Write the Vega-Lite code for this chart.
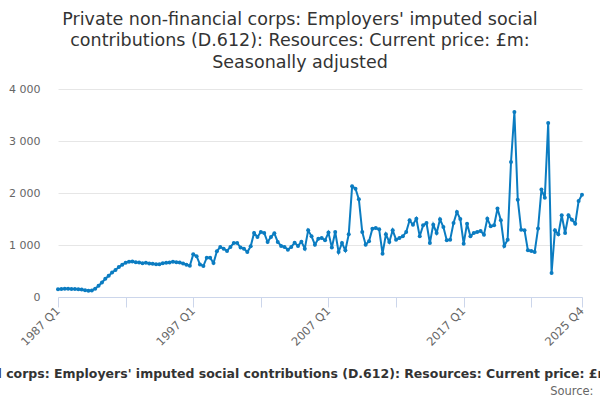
{
  "$schema": "https://vega.github.io/schema/vega-lite/v6.json",
  "width": 524,
  "height": 208,
  "autosize": {"type": "none"},
  "padding": {"left": 58, "right": 18, "top": 89, "bottom": 103},
  "background": "white",
  "config": {"view": {"stroke": null}, "font": "DejaVu Sans"},
  "title": {
    "text": ["Private non-financial corps: Employers' imputed social", "contributions (D.612): Resources: Current price: £m:", "Seasonally adjusted"],
    "font": "DejaVu Sans",
    "fontSize": 17.5,
    "fontWeight": "normal",
    "color": "#333333",
    "lineHeight": 21.5,
    "frame": "group",
    "anchor": "middle",
    "dx": -20,
    "offset": 12
  },
  "data": {
    "values": [
      {"d": "1987 Q1", "v": 150}, {"d": "1987 Q2", "v": 155}, {"d": "1987 Q3", "v": 158}, {"d": "1987 Q4", "v": 158},
      {"d": "1988 Q1", "v": 155}, {"d": "1988 Q2", "v": 152}, {"d": "1988 Q3", "v": 150}, {"d": "1988 Q4", "v": 145},
      {"d": "1989 Q1", "v": 132}, {"d": "1989 Q2", "v": 122}, {"d": "1989 Q3", "v": 125}, {"d": "1989 Q4", "v": 160},
      {"d": "1990 Q1", "v": 215}, {"d": "1990 Q2", "v": 280}, {"d": "1990 Q3", "v": 350}, {"d": "1990 Q4", "v": 410},
      {"d": "1991 Q1", "v": 470}, {"d": "1991 Q2", "v": 520}, {"d": "1991 Q3", "v": 575}, {"d": "1991 Q4", "v": 620},
      {"d": "1992 Q1", "v": 660}, {"d": "1992 Q2", "v": 680}, {"d": "1992 Q3", "v": 685}, {"d": "1992 Q4", "v": 670},
      {"d": "1993 Q1", "v": 665}, {"d": "1993 Q2", "v": 650}, {"d": "1993 Q3", "v": 660}, {"d": "1993 Q4", "v": 645},
      {"d": "1994 Q1", "v": 640}, {"d": "1994 Q2", "v": 630}, {"d": "1994 Q3", "v": 630}, {"d": "1994 Q4", "v": 650},
      {"d": "1995 Q1", "v": 660}, {"d": "1995 Q2", "v": 665}, {"d": "1995 Q3", "v": 680}, {"d": "1995 Q4", "v": 670},
      {"d": "1996 Q1", "v": 665}, {"d": "1996 Q2", "v": 645}, {"d": "1996 Q3", "v": 620}, {"d": "1996 Q4", "v": 600},
      {"d": "1997 Q1", "v": 820}, {"d": "1997 Q2", "v": 785}, {"d": "1997 Q3", "v": 623}, {"d": "1997 Q4", "v": 596},
      {"d": "1998 Q1", "v": 757}, {"d": "1998 Q2", "v": 757}, {"d": "1998 Q3", "v": 654}, {"d": "1998 Q4", "v": 879},
      {"d": "1999 Q1", "v": 962}, {"d": "1999 Q2", "v": 930}, {"d": "1999 Q3", "v": 885}, {"d": "1999 Q4", "v": 962},
      {"d": "2000 Q1", "v": 1038}, {"d": "2000 Q2", "v": 1038}, {"d": "2000 Q3", "v": 950}, {"d": "2000 Q4", "v": 930},
      {"d": "2001 Q1", "v": 865}, {"d": "2001 Q2", "v": 976}, {"d": "2001 Q3", "v": 1231}, {"d": "2001 Q4", "v": 1154},
      {"d": "2002 Q1", "v": 1250}, {"d": "2002 Q2", "v": 1231}, {"d": "2002 Q3", "v": 1058}, {"d": "2002 Q4", "v": 1154},
      {"d": "2003 Q1", "v": 1225}, {"d": "2003 Q2", "v": 1058}, {"d": "2003 Q3", "v": 981}, {"d": "2003 Q4", "v": 962},
      {"d": "2004 Q1", "v": 911}, {"d": "2004 Q2", "v": 962}, {"d": "2004 Q3", "v": 1045}, {"d": "2004 Q4", "v": 981},
      {"d": "2005 Q1", "v": 1064}, {"d": "2005 Q2", "v": 930}, {"d": "2005 Q3", "v": 1282}, {"d": "2005 Q4", "v": 1167},
      {"d": "2006 Q1", "v": 1007}, {"d": "2006 Q2", "v": 1122}, {"d": "2006 Q3", "v": 1135}, {"d": "2006 Q4", "v": 1090},
      {"d": "2007 Q1", "v": 1238}, {"d": "2007 Q2", "v": 950}, {"d": "2007 Q3", "v": 1250}, {"d": "2007 Q4", "v": 865},
      {"d": "2008 Q1", "v": 1038}, {"d": "2008 Q2", "v": 898}, {"d": "2008 Q3", "v": 1205}, {"d": "2008 Q4", "v": 2128},
      {"d": "2009 Q1", "v": 2083}, {"d": "2009 Q2", "v": 1878}, {"d": "2009 Q3", "v": 1250}, {"d": "2009 Q4", "v": 1007},
      {"d": "2010 Q1", "v": 1071}, {"d": "2010 Q2", "v": 1314}, {"d": "2010 Q3", "v": 1327}, {"d": "2010 Q4", "v": 1301},
      {"d": "2011 Q1", "v": 834}, {"d": "2011 Q2", "v": 1205}, {"d": "2011 Q3", "v": 1058}, {"d": "2011 Q4", "v": 1282},
      {"d": "2012 Q1", "v": 1103}, {"d": "2012 Q2", "v": 1135}, {"d": "2012 Q3", "v": 1167}, {"d": "2012 Q4", "v": 1250},
      {"d": "2013 Q1", "v": 1475}, {"d": "2013 Q2", "v": 1391}, {"d": "2013 Q3", "v": 1507}, {"d": "2013 Q4", "v": 1167},
      {"d": "2014 Q1", "v": 1378}, {"d": "2014 Q2", "v": 1423}, {"d": "2014 Q3", "v": 1038}, {"d": "2014 Q4", "v": 1391},
      {"d": "2015 Q1", "v": 1231}, {"d": "2015 Q2", "v": 1494}, {"d": "2015 Q3", "v": 1346}, {"d": "2015 Q4", "v": 1090},
      {"d": "2016 Q1", "v": 1103}, {"d": "2016 Q2", "v": 1423}, {"d": "2016 Q3", "v": 1635}, {"d": "2016 Q4", "v": 1500},
      {"d": "2017 Q1", "v": 1026}, {"d": "2017 Q2", "v": 1410}, {"d": "2017 Q3", "v": 1167}, {"d": "2017 Q4", "v": 1231},
      {"d": "2018 Q1", "v": 1250}, {"d": "2018 Q2", "v": 1270}, {"d": "2018 Q3", "v": 1199}, {"d": "2018 Q4", "v": 1507},
      {"d": "2019 Q1", "v": 1359}, {"d": "2019 Q2", "v": 1378}, {"d": "2019 Q3", "v": 1700}, {"d": "2019 Q4", "v": 1475},
      {"d": "2020 Q1", "v": 981}, {"d": "2020 Q2", "v": 1103}, {"d": "2020 Q3", "v": 2596}, {"d": "2020 Q4", "v": 3558},
      {"d": "2021 Q1", "v": 1872}, {"d": "2021 Q2", "v": 1295}, {"d": "2021 Q3", "v": 1283}, {"d": "2021 Q4", "v": 898},
      {"d": "2022 Q1", "v": 885}, {"d": "2022 Q2", "v": 866}, {"d": "2022 Q3", "v": 1315}, {"d": "2022 Q4", "v": 2065},
      {"d": "2023 Q1", "v": 1911}, {"d": "2023 Q2", "v": 3346}, {"d": "2023 Q3", "v": 462}, {"d": "2023 Q4", "v": 1283},
      {"d": "2024 Q1", "v": 1205}, {"d": "2024 Q2", "v": 1571}, {"d": "2024 Q3", "v": 1231}, {"d": "2024 Q4", "v": 1571},
      {"d": "2025 Q1", "v": 1487}, {"d": "2025 Q2", "v": 1410}, {"d": "2025 Q3", "v": 1846}, {"d": "2025 Q4", "v": 1968}
    ]
  },
  "layer": [
    {
      "mark": {"type": "line", "color": "#0b7cc1", "strokeWidth": 2},
      "encoding": {
        "x": {
          "field": "d",
          "type": "ordinal",
          "sort": null,
          "scale": {"type": "point", "padding": 0},
          "axis": {
            "orient": "bottom",
            "values": ["1987 Q1", "1992 Q1", "1997 Q1", "2002 Q1", "2007 Q1", "2012 Q1", "2017 Q1", "2022 Q1", "2025 Q4"],
            "labelExpr": "indexof(['1987 Q1', '1997 Q1', '2007 Q1', '2017 Q1', '2025 Q4'], datum.value) >= 0 ? datum.value : ''",
            "labelAngle": -45,
            "labelAlign": "right",
            "labelBaseline": "middle",
            "labelColor": "#666666",
            "labelFontSize": 11.5,
            "labelPadding": 2,
            "labelOverlap": false,
            "domainColor": "#ccd6eb",
            "tickColor": "#ccd6eb",
            "tickSize": 10,
            "grid": false,
            "title": "Private non-financial corps: Employers' imputed social contributions (D.612): Resources: Current price: £m: Seasonally adjusted",
            "titleFontSize": 12.5,
            "titleFontWeight": "bold",
            "titleColor": "#333333",
            "titleX": 250,
            "titleY": 80,
            "titleAlign": "center",
            "titleBaseline": "alphabetic",
            "titleLimit": 2000
          }
        },
        "y": {
          "field": "v",
          "type": "quantitative",
          "scale": {"domain": [0, 4000]},
          "axis": {
            "values": [0, 1000, 2000, 3000, 4000],
            "labelExpr": "replace(format(datum.value, ','), ',', ' ')",
            "labelColor": "#666666",
            "labelFontSize": 11,
            "labelPadding": 18,
            "domain": false,
            "ticks": false,
            "gridColor": "#e6e6e6",
            "title": null
          }
        }
      }
    },
    {
      "mark": {"type": "point", "filled": true, "size": 16, "color": "#0b7cc1", "opacity": 1},
      "encoding": {
        "x": {
          "field": "d",
          "type": "ordinal",
          "sort": null,
          "scale": {"type": "point", "padding": 0},
          "axis": {
            "orient": "bottom",
            "labels": false,
            "ticks": false,
            "domain": false,
            "grid": false,
            "title": "Source:",
            "titleFontSize": 11.5,
            "titleFontWeight": "normal",
            "titleColor": "#666666",
            "titleX": 535,
            "titleY": 97,
            "titleAlign": "right",
            "titleBaseline": "alphabetic"
          }
        },
        "y": {"field": "v", "type": "quantitative"}
      }
    }
  ],
  "resolve": {"axis": {"x": "independent"}}
}
